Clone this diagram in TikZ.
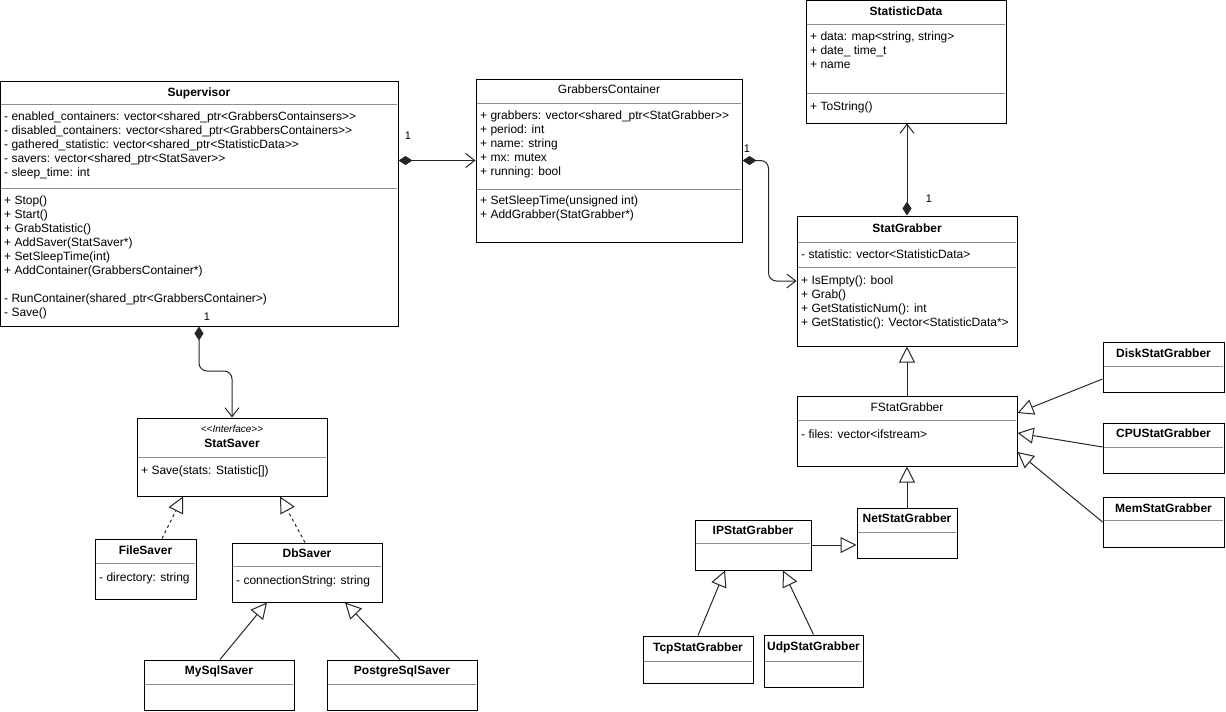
\documentclass[tikz,border=0pt]{standalone}
\usepackage{fontspec}
\setmainfont{Liberation Sans}[Ligatures=TeXOff]
\usetikzlibrary{arrows.meta,fit,calc}
\newcommand\cls[5]{\node[box,fit={(#2,#3)(#4,#5)}] (#1) {};}
\newcommand\clsline[3]{\draw[sepl] (#1+1,#3) -- (#2-1,#3);}
\begin{document}
\begin{tikzpicture}[x=1pt,y=-1pt,
  box/.style={draw=black,line width=1pt,inner sep=0pt,fill=white},
  sepl/.style={draw=black!45,line width=1pt},
  ttl/.style={font=\fontsize{12}{14}\selectfont\bfseries,inner sep=0pt,anchor=base},
  ttr/.style={font=\fontsize{12}{14}\selectfont,inner sep=0pt,anchor=base},
  cmp/.style={font=\fontsize{12}{14}\selectfont,align=left,inner sep=0pt,anchor=north west,execute at begin node=\strut},
  con/.style={draw=black!85,line width=1pt},
  comp/.style={con,{Diamond[length=14pt,width=9pt]}-{Straight Barb[length=9pt,width=14pt]}},
  gen/.style={con,-{Triangle[open,length=16pt,width=16pt,fill=white]}},
  real/.style={gen,dash pattern=on 3pt off 3pt},
  mult/.style={font=\fontsize{11}{14}\selectfont,inner sep=0pt}
]
\useasboundingbox (0,0) rectangle (1226,712);
\fill[white] (0,0) rectangle (1226,712);

% ---------- class boxes
\cls{sup}{0}{81}{398}{326}
\clsline{0}{398}{104}\clsline{0}{398}{188}
\node[ttl] (supT) at (199,96) {Supervisor};
\node[cmp] (supA) at (4,111.5) {- enabled\_containers: vector<shared\_ptr<GrabbersContainsers>>\\
- disabled\_containers: vector<shared\_ptr<GrabbersContainers>>\\
- gathered\_statistic: vector<shared\_ptr<StatisticData>>\\
- savers: vector<shared\_ptr<StatSaver>>\\
- sleep\_time: int};
\node[cmp] (supM) at (4,195.5) {+ Stop()\\
+ Start()\\
+ GrabStatistic()\\
+ AddSaver(StatSaver*)\\
+ SetSleepTime(int)\\
+ AddContainer(GrabbersContainer*)\\[14pt]
- RunContainer(shared\_ptr<GrabbersContainer>)\\
- Save()};

\cls{gc}{476}{79}{742}{242}
\clsline{476}{742}{103}\clsline{476}{742}{189}
\node[ttr] (gcT) at (609,93) {GrabbersContainer};
\node[cmp] (gcA) at (480,110.5) {+ grabbers: vector<shared\_ptr<StatGrabber>>\\
+ period: int\\
+ name: string\\
+ mx: mutex\\
+ running: bool};
\node[cmp] (gcM) at (480,195.5) {+ SetSleepTime(unsigned int)\\
+ AddGrabber(StatGrabber*)};

\cls{sd}{806}{0}{1006}{123}
\clsline{806}{1006}{24}\clsline{806}{1006}{93}
\node[ttl] (sdT) at (906,15.5) {StatisticData};
\node[cmp] (sdA) at (810,31.5) {+ data: map<string, string>\\
+ date\_ time\_t\\
+ name};
\node[cmp] (sdM) at (810,100.5) {+ ToString()};

\cls{sg}{797}{216}{1017}{346}
\clsline{797}{1017}{242}\clsline{797}{1017}{267}
\node[ttl] (sgT) at (907,232.5) {StatGrabber};
\node[cmp] (sgA) at (801,248.5) {- statistic: vector<StatisticData>};
\node[cmp] (sgM) at (801,275.5) {+ IsEmpty(): bool\\
+ Grab()\\
+ GetStatisticNum(): int\\
+ GetStatistic(): Vector<StatisticData*>};

\cls{fs}{797}{396}{1017}{466}
\clsline{797}{1017}{420}
\node[ttr] (fsT) at (907,411.5) {FStatGrabber};
\node[cmp] (fsA) at (801,428.5) {- files: vector<ifstream>};

\cls{disk}{1103}{342}{1224}{392}
\clsline{1103}{1224}{366}
\node[ttl] (diskT) at (1163.5,357.5) {DiskStatGrabber};

\cls{cpu}{1103}{423}{1224}{473}
\clsline{1103}{1224}{447}
\node[ttl] (cpuT) at (1163.5,437.5) {CPUStatGrabber};

\cls{mem}{1103}{497}{1224}{547}
\clsline{1103}{1224}{520}
\node[ttl] (memT) at (1163.5,512.5) {MemStatGrabber};

\cls{net}{857}{508}{957}{558}
\clsline{857}{957}{532}
\node[ttl] (netT) at (907,522.5) {NetStatGrabber};

\cls{ip}{695}{520}{811}{570}
\clsline{695}{811}{543}
\node[ttl] (ipT) at (753,534.5) {IPStatGrabber};

\cls{tcp}{643}{636}{753}{683}
\clsline{643}{753}{661}
\node[ttl] (tcpT) at (698,651.5) {TcpStatGrabber};

\cls{udp}{764}{635}{863}{687}
\clsline{764}{863}{661}
\node[ttl] (udpT) at (813.5,650.5) {UdpStatGrabber};

\cls{ss}{137}{418}{327}{496}
\clsline{137}{327}{457}
\node[ttr,font=\fontsize{10}{12}\selectfont\itshape] (ssS) at (232,432) {<<Interface>>};
\node[ttl] (ssT) at (232,447.5) {StatSaver};
\node[cmp] (ssM) at (141,464.5) {+ Save(stats: Statistic[])};

\cls{fsav}{95}{539}{196}{599}
\clsline{95}{196}{563}
\node[ttl] (fsavT) at (145.5,554.5) {FileSaver};
\node[cmp] (fsavA) at (99,571.5) {- directory: string};

\cls{db}{232}{543}{382}{602}
\clsline{232}{382}{566}
\node[ttl] (dbT) at (307,557.5) {DbSaver};
\node[cmp] (dbA) at (236,574) {- connectionString: string};

\cls{mysql}{144}{660}{294}{710}
\clsline{144}{294}{684}
\node[ttl] (mysqlT) at (219,674.5) {MySqlSaver};

\cls{pg}{327}{660}{477}{710}
\clsline{327}{477}{684}
\node[ttl] (pgT) at (402,674.5) {PostgreSqlSaver};

% ---------- connectors
\draw[comp] (sup.east |- gc.west) -- (gc.west);
\draw[comp,rounded corners=8pt] (gc.east) -- ++(26,0) |- (sg.west);
\draw[comp] (sg.north) -- (sg.north |- sd.south);
\draw[comp,rounded corners=8pt] (sup.south) |- (215,371) -| (ss.north);

\draw[gen] (fs.north) -- (sg.south);
\draw[gen] (disk.west |- 0,379) -- (fs.east |- 0,413);
\draw[gen] (cpu.west |- 0,447) -- (fs.east |- 0,433);
\draw[gen] (mem.west |- 0,522) -- (fs.east |- 0,452);
\draw[gen] (net.north) -- (fs.south);
\draw[gen] (ip.east) -- (net.west |- ip.east);
\draw[gen] (tcp.north) -- (ip.south -| 725,0);
\draw[gen] (udp.north) -- (ip.south -| 783,0);
\draw[real] (fsav.north -| 162,0) -- (ss.south -| 183,0);
\draw[real] (db.north -| 305,0) -- (ss.south -| 280,0);
\draw[gen] (mysql.north -| 220,0) -- (db.south -| 267,0);
\draw[gen] (pg.north -| 400,0) -- (db.south -| 345,0);

% ---------- multiplicities
\node[mult] (m1) at (408,136) {1};
\node[mult] (m2) at (747,149) {1};
\node[mult] (m3) at (929,199) {1};
\node[mult] (m4) at (207,317) {1};
\end{tikzpicture}
\end{document}
